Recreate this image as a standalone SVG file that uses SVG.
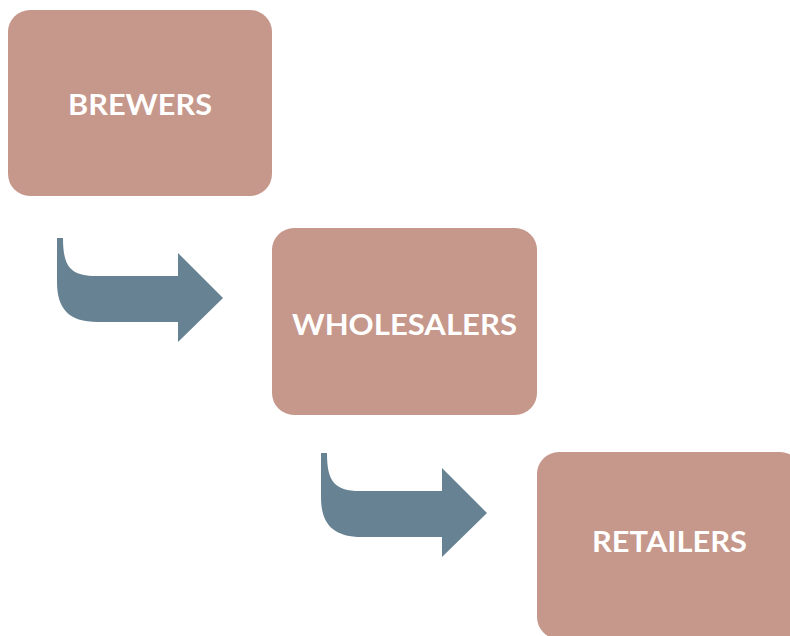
<svg xmlns="http://www.w3.org/2000/svg" width="790" height="636" viewBox="0 0 790 636">
<style>
.box{fill:#C6978B}
.lbl{fill:#FFFFFF;font-family:Lato,"Open Sans","Liberation Sans",sans-serif;font-weight:bold;font-size:28px;text-anchor:middle}
.arr{fill:#668293}
</style>
<defs>
<path id="bent" d="M57,238 L63,238 C63,266 70,276 96,276 L178,276 L178,253 L223,298 L178,342 L178,322 L98,322 C68,322 57,308 57,282 Z"/>
</defs>
<rect width="790" height="636" fill="#FFFFFF"/>
<g id="connectors">
<use href="#bent" class="arr"/>
<use href="#bent" class="arr" transform="translate(264,215)"/>
</g>
<g id="brewers">
<rect class="box" x="8" y="10" width="264" height="186" rx="22"/>
<text class="lbl" x="140" y="115" textLength="144" lengthAdjust="spacingAndGlyphs">BREWERS</text>
</g>
<g id="wholesalers">
<rect class="box" x="272" y="228" width="265" height="187" rx="22"/>
<text class="lbl" x="404.5" y="335" textLength="225" lengthAdjust="spacingAndGlyphs">WHOLESALERS</text>
</g>
<g id="retailers">
<rect class="box" x="537" y="452" width="265" height="187" rx="22"/>
<text class="lbl" x="669.5" y="552" textLength="155" lengthAdjust="spacingAndGlyphs">RETAILERS</text>
</g>
</svg>
